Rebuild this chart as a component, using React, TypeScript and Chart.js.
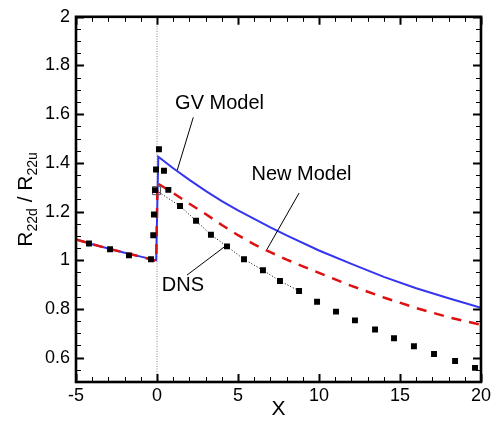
import React, { useEffect, useRef } from "react";
import { Chart, registerables } from "chart.js";

Chart.register(...registerables);

// ---------- axes ----------
const xMin = -5;
const xMax = 20;
const yMin = 0.5;
const yMax = 2;
const xTickValues = [-5, 0, 5, 10, 15, 20];
const yTickValues = [0.6, 0.8, 1, 1.2, 1.4, 1.6, 1.8, 2];
const xMinorStep = 1;
const yMinorStep = 0.05;

// ---------- GV Model (blue solid) ----------
const gvX = [-5, -4, -3, -2, -1, -0.05, 0.08, 1, 2, 3, 4, 5, 6, 7, 8, 10, 12, 14, 16, 18, 20];
const gvY = [1.085, 1.066, 1.048, 1.031, 1.015, 1.0, 1.425, 1.378, 1.33, 1.285, 1.243, 1.205, 1.17, 1.135, 1.102, 1.04, 0.985, 0.932, 0.885, 0.844, 0.805];

// ---------- New Model (red dashed) ----------
const newX = [-5, -4, -3, -2, -1, -0.05, 0.03, 0.5, 1, 2, 3, 4, 5, 6, 7, 8, 9, 10, 12, 14, 16, 18, 20];
const newY = [1.085, 1.066, 1.048, 1.031, 1.015, 0.997, 1.316, 1.297, 1.276, 1.232, 1.19, 1.145, 1.103, 1.065, 1.033, 1.003, 0.975, 0.948, 0.895, 0.847, 0.804, 0.766, 0.735];

// ---------- DNS (black squares) ----------
const dnsX = [-4.2, -2.9, -1.73, -0.37, -0.23, -0.19, -0.12, -0.06, 0.12, 0.43, 0.7, 1.42, 2.41, 3.33, 4.32, 5.37, 6.54, 7.59, 8.77, 9.88, 11.05, 12.22, 13.46, 14.63, 15.86, 17.1, 18.4, 19.63];
const dnsY = [1.069, 1.045, 1.02, 1.004, 1.103, 1.188, 1.288, 1.373, 1.456, 1.368, 1.289, 1.223, 1.162, 1.105, 1.057, 1.004, 0.959, 0.915, 0.874, 0.83, 0.789, 0.753, 0.716, 0.68, 0.647, 0.615, 0.586, 0.558];

// hollow DNS marker at the step
const hollowX = [-0.03];
const hollowY = [1.286];

// dotted line through the DNS points from the step to x≈8.8
const dnsLineX = [hollowX[0], ...dnsX.slice(11, 19)];
const dnsLineY = [hollowY[0], ...dnsY.slice(11, 19)];

// vertical dotted line at x = 0
const zeroLineX = [0, 0];
const zeroLineY = [yMin, yMax];

// ---------- annotations (data coordinates) ----------
const annoLabels = ["GV Model", "New Model", "DNS"];
const annoTextX = [3.86, 8.92, 1.6];
const annoTextY = [1.645, 1.353, 0.897];
const annoLineX1 = [2.24, 8.77, 1.85];
const annoLineY1 = [1.587, 1.276, 0.939];
const annoLineX2 = [1.25, 6.79, 4.2];
const annoLineY2 = [1.37, 1.045, 1.057];

const FONT = "'Liberation Sans', Arial, Helvetica, sans-serif";

const toXY = (xs: number[], ys: number[]) => xs.map((x, i) => ({ x, y: ys[i] }));

const framePlugin = {
  id: "frameTicks",
  afterDatasetsDraw(chart: any) {
    const { ctx, chartArea } = chart;
    const { left, right, top, bottom } = chartArea;
    const xs = chart.scales.x;
    const ys = chart.scales.y;
    ctx.save();
    ctx.strokeStyle = "#000";
    // x ticks, inward, bottom and top
    const nx = Math.round((xMax - xMin) / xMinorStep);
    for (let i = 0; i <= nx; i++) {
      const v = xMin + i * xMinorStep;
      const major = xTickValues.some((t) => Math.abs(t - v) < 1e-6);
      const len = major ? 8 : 5;
      const px = Math.round(xs.getPixelForValue(v)) + 0.5;
      ctx.lineWidth = major ? 2 : 1;
      ctx.beginPath();
      ctx.moveTo(px, bottom);
      ctx.lineTo(px, bottom - len);
      ctx.moveTo(px, top);
      ctx.lineTo(px, top + len);
      ctx.stroke();
    }
    const ny = Math.round((yMax - yMin) / yMinorStep);
    for (let i = 0; i <= ny; i++) {
      const v = yMin + i * yMinorStep;
      const major = yTickValues.some((t) => Math.abs(t - v) < 1e-6);
      const len = major ? 8 : 5;
      const py = Math.round(ys.getPixelForValue(v)) + 0.5;
      ctx.lineWidth = major ? 2 : 1;
      ctx.beginPath();
      ctx.moveTo(left, py);
      ctx.lineTo(left + len, py);
      ctx.moveTo(right, py);
      ctx.lineTo(right - len, py);
      ctx.stroke();
    }
    ctx.lineWidth = 2.6;
    ctx.strokeRect(left, top, right - left, bottom - top);

    // annotations
    ctx.lineWidth = 1;
    ctx.strokeStyle = "#000";
    ctx.fillStyle = "#000";
    ctx.font = `20px ${FONT}`;
    ctx.textAlign = "center";
    ctx.textBaseline = "middle";
    annoLabels.forEach((t, i) => {
      ctx.fillText(t, xs.getPixelForValue(annoTextX[i]), ys.getPixelForValue(annoTextY[i]));
      ctx.beginPath();
      ctx.moveTo(xs.getPixelForValue(annoLineX1[i]), ys.getPixelForValue(annoLineY1[i]));
      ctx.lineTo(xs.getPixelForValue(annoLineX2[i]), ys.getPixelForValue(annoLineY2[i]));
      ctx.stroke();
    });

    // x title
    ctx.font = `21px ${FONT}`;
    ctx.textBaseline = "alphabetic";
    ctx.fillText("X", (left + right) / 2, 415);

    // y title with subscripts, rotated
    const parts = [
      { t: "R", s: 21, dy: 0 },
      { t: "22d", s: 14, dy: 5 },
      { t: " / ", s: 21, dy: 0 },
      { t: "R", s: 21, dy: 0 },
      { t: "22u", s: 14, dy: 5 },
    ];
    let total = 0;
    const widths = parts.map((p) => {
      ctx.font = `${p.s}px ${FONT}`;
      const w = ctx.measureText(p.t).width;
      total += w;
      return w;
    });
    ctx.translate(24, (top + bottom) / 2);
    ctx.rotate(-Math.PI / 2);
    ctx.textAlign = "left";
    let cx = -total / 2;
    parts.forEach((p, i) => {
      ctx.font = `${p.s}px ${FONT}`;
      ctx.fillText(p.t, cx, 7.5 + p.dy);
      cx += widths[i];
    });
    ctx.restore();
  },
};

export default function App() {
  const ref = useRef<HTMLCanvasElement | null>(null);
  useEffect(() => {
    if (!ref.current) return;
    const chart = new Chart(ref.current, {
      type: "scatter",
      data: {
        datasets: [
          {
            label: "DNS",
            data: toXY(dnsX, dnsY),
            showLine: false,
            pointStyle: "rect",
            pointRadius: 4.2,
            backgroundColor: "#000",
            borderWidth: 0,
          },
          {
            label: "DNS hollow",
            data: toXY(hollowX, hollowY),
            showLine: false,
            pointStyle: "rect",
            pointRadius: 5.7,
            backgroundColor: "rgba(0,0,0,0)",
            borderColor: "#555",
            borderWidth: 1,
          },
          {
            label: "New Model",
            data: toXY(newX, newY),
            showLine: true,
            borderColor: "#dd1111",
            borderWidth: 2.5,
            borderDash: [10, 8],
            pointRadius: 0,
          },
          {
            label: "GV Model",
            data: toXY(gvX, gvY),
            showLine: true,
            borderColor: "#3535f0",
            borderWidth: 2,
            pointRadius: 0,
          },
          {
            label: "DNS line",
            data: toXY(dnsLineX, dnsLineY),
            showLine: true,
            borderColor: "#000",
            borderWidth: 1,
            borderDash: [1, 2],
            pointRadius: 0,
          },
          {
            label: "x=0",
            data: toXY(zeroLineX, zeroLineY),
            showLine: true,
            borderColor: "#888",
            borderWidth: 1,
            borderDash: [1, 1.5],
            pointRadius: 0,
          },
        ],
      },
      options: {
        animation: false,
        responsive: false,
        devicePixelRatio: 1,
        layout: { padding: { top: 12, right: 16, left: 0, bottom: 0 } },
        plugins: { legend: { display: false }, tooltip: { enabled: false } },
        scales: {
          x: {
            type: "linear",
            min: xMin,
            max: xMax,
            grid: { display: false, drawTicks: false },
            border: { display: false },
            afterFit: (s: any) => {
              s.height = 39;
            },
            afterBuildTicks: (s: any) => {
              s.ticks = xTickValues.map((v) => ({ value: v }));
            },
            ticks: {
              color: "#000",
              font: { family: FONT, size: 18 },
              padding: 3,
              callback: (v: any) => String(v),
            },
          },
          y: {
            type: "linear",
            min: yMin,
            max: yMax,
            grid: { display: false, drawTicks: false },
            border: { display: false },
            afterFit: (s: any) => {
              s.width = 76;
            },
            afterBuildTicks: (s: any) => {
              s.ticks = yTickValues.map((v) => ({ value: v }));
            },
            ticks: {
              color: "#000",
              font: { family: FONT, size: 18 },
              padding: 6,
              callback: (v: any) => String(Math.round(v * 100) / 100),
            },
          },
        },
      },
      plugins: [framePlugin],
    });
    return () => chart.destroy();
  }, []);
  return (
    <div style={{ position: "fixed", left: 0, top: 0, width: 497, height: 421, background: "#fff" }}>
      <canvas ref={ref} width={497} height={421} style={{ display: "block" }} />
    </div>
  );
}
